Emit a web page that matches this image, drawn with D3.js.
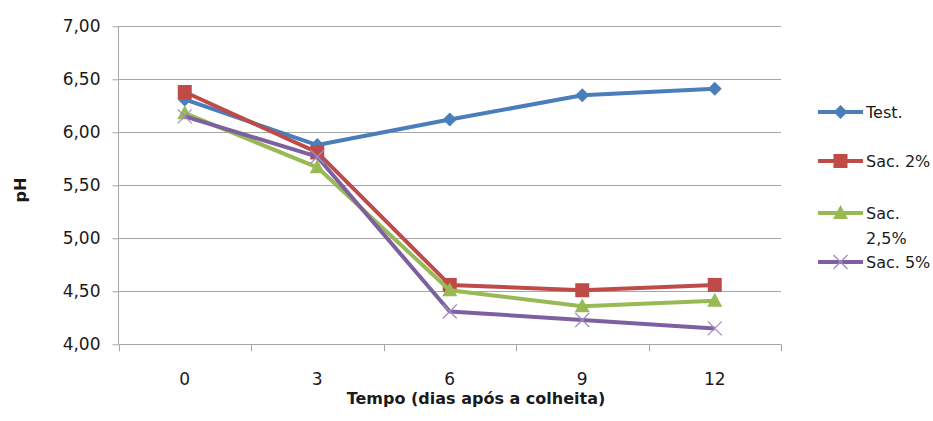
<!DOCTYPE html>
<html>
<head>
<meta charset="utf-8">
<script src="https://cdn.jsdelivr.net/npm/d3@7"></script>
<style>
  html, body { margin: 0; padding: 0; background: #fff; }
  svg { display: block; }
  text { font-family: "DejaVu Sans", sans-serif; fill: #1a1a1a; }
</style>
</head>
<body>
<svg id="chart" width="933" height="421"></svg>
<script>
// Days after harvest
const days = ["0", "3", "6", "9", "12"];
// pH per treatment
const testValues   = [6.31, 5.88, 6.12, 6.35, 6.41];
const sac2Values   = [6.38, 5.81, 4.56, 4.51, 4.56];
const sac25Values  = [6.18, 5.67, 4.51, 4.36, 4.41];
const sac5Values   = [6.15, 5.77, 4.31, 4.23, 4.15];
const yTicks = [4.0, 4.5, 5.0, 5.5, 6.0, 6.5, 7.0];
const seriesNames = ["Test.", "Sac. 2%", "Sac. 2,5%", "Sac. 5%"];

const series = [
  { name: seriesNames[0], values: testValues,  color: "#4a7ebb", marker: "diamond" },
  { name: seriesNames[1], values: sac2Values,  color: "#be4b48", marker: "square" },
  { name: seriesNames[2], values: sac25Values, color: "#98b954", marker: "triangle" },
  { name: seriesNames[3], values: sac5Values,  color: "#7d60a0", marker: "cross" }
];

const svg = d3.select("#chart");
const plot = { left: 118.5, right: 781, top: 26.3, bottom: 344.3 };

const x = d3.scaleBand().domain(days).range([plot.left, plot.right]).padding(0);
const xc = d => x(d) + x.bandwidth() / 2;
const y = d3.scaleLinear().domain([4, 7]).range([plot.bottom, plot.top]);
const fmt = v => d3.format(".2f")(v).replace(".", ",");

// Horizontal gridlines
svg.append("g").selectAll("line").data(yTicks.filter(v => v > 4)).join("line")
  .attr("x1", plot.left).attr("x2", plot.right)
  .attr("y1", d => Math.round(y(d)) + 0.5).attr("y2", d => Math.round(y(d)) + 0.5)
  .attr("stroke", "#a6a6a6").attr("stroke-width", 1);

// Y axis
const yAxis = svg.append("g")
  .attr("transform", `translate(${plot.left},0)`)
  .call(d3.axisLeft(y).tickValues(yTicks).tickFormat(fmt).tickSize(6).tickPadding(12));
yAxis.select(".domain").attr("stroke", "#a6a6a6").attr("d", `M0,${plot.top}V${plot.bottom}`);
yAxis.selectAll(".tick line").attr("stroke", "#a6a6a6");
yAxis.selectAll(".tick text").attr("font-size", 17).attr("font-family", "DejaVu Sans").attr("fill", "#1a1a1a");

// X axis: baseline, ticks at band boundaries, labels at band centres
const xAxis = svg.append("g");
xAxis.append("line")
  .attr("x1", plot.left).attr("x2", plot.right)
  .attr("y1", Math.round(plot.bottom) + 0.5).attr("y2", Math.round(plot.bottom) + 0.5)
  .attr("stroke", "#a6a6a6");
const bounds = days.map(d => x(d)).concat([plot.right]);
xAxis.selectAll("line.tk").data(bounds).join("line").attr("class", "tk")
  .attr("x1", d => Math.round(d) + 0.5).attr("x2", d => Math.round(d) + 0.5)
  .attr("y1", plot.bottom).attr("y2", plot.bottom + 7)
  .attr("stroke", "#a6a6a6");
xAxis.selectAll("text").data(days).join("text")
  .attr("x", d => xc(d)).attr("y", 385)
  .attr("text-anchor", "middle").attr("font-size", 17)
  .text(d => d);

// Axis titles
svg.append("text")
  .attr("x", 476).attr("y", 404)
  .attr("text-anchor", "middle").attr("font-size", 16).attr("font-weight", "bold")
  .text("Tempo (dias após a colheita)");
svg.append("text")
  .attr("transform", "translate(26,190) rotate(-90)")
  .attr("text-anchor", "middle").attr("font-size", 16).attr("font-weight", "bold")
  .text("pH");

// Marker shapes
function drawMarker(g, type, color, cx, cy) {
  if (type === "diamond") {
    g.append("path").attr("d", `M${cx},${cy - 7}L${cx + 7},${cy}L${cx},${cy + 7}L${cx - 7},${cy}Z`)
      .attr("fill", color);
  } else if (type === "square") {
    g.append("rect").attr("x", cx - 7).attr("y", cy - 7).attr("width", 14).attr("height", 14)
      .attr("fill", color);
  } else if (type === "triangle") {
    g.append("path").attr("d", `M${cx},${cy - 8}L${cx + 7.5},${cy + 6}L${cx - 7.5},${cy + 6}Z`)
      .attr("fill", color);
  } else {
    g.append("path").attr("d", `M${cx - 7},${cy - 7}L${cx + 7},${cy + 7}M${cx - 7},${cy + 7}L${cx + 7},${cy - 7}`)
      .attr("stroke", "#a08cc4").attr("stroke-width", 1.3).attr("fill", "none");
  }
}

// Series lines and markers
const line = d3.line().x((v, i) => xc(days[i])).y(v => y(v));
series.forEach(s => {
  const g = svg.append("g");
  g.append("path").attr("d", line(s.values))
    .attr("fill", "none").attr("stroke", s.color).attr("stroke-width", 4)
    .attr("stroke-linejoin", "round");
  s.values.forEach((v, i) => drawMarker(g, s.marker, s.color, xc(days[i]), y(v)));
});

// Legend
const legendRows = [112, 161, 213, 262];
series.forEach((s, i) => {
  const g = svg.append("g");
  const ly = legendRows[i];
  g.append("line").attr("x1", 818).attr("x2", 863).attr("y1", ly).attr("y2", ly)
    .attr("stroke", s.color).attr("stroke-width", 4);
  drawMarker(g, s.marker, s.color, 840.5, ly);
  const t = g.append("text").attr("x", 866).attr("y", ly + 6).attr("font-size", 16);
  if (s.name === "Sac. 2,5%") {
    t.append("tspan").attr("x", 866).text("Sac.");
    t.append("tspan").attr("x", 866).attr("dy", 25).text("2,5%");
  } else {
    t.text(s.name);
  }
});
</script>
</body>
</html>
